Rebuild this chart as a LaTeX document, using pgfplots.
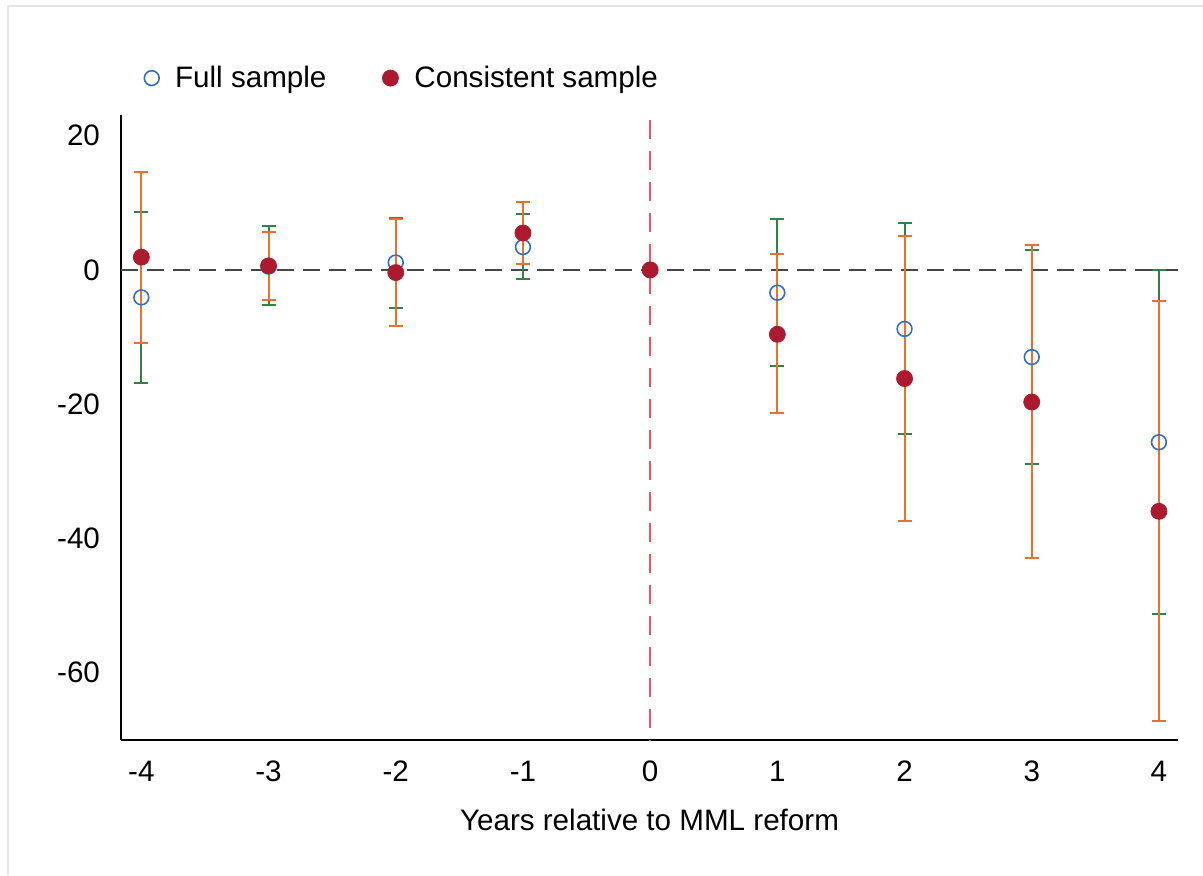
\documentclass[border=0pt]{standalone}
\usepackage{fontspec}
\setmainfont{Liberation Sans}
\usepackage{pgfplots}
\pgfplotsset{compat=1.18}
\usepackage{pgfplotstable}

\definecolor{fullblue}{RGB}{50,110,190}
\definecolor{consred}{RGB}{172,26,47}
\definecolor{cigreen}{RGB}{50,130,70}
\definecolor{ciorange}{RGB}{235,112,45}
\definecolor{zeroline}{RGB}{70,70,70}
\definecolor{vred}{RGB}{240,85,95}

\pgfplotstableread{
x y lo hi
-4 -4.1 -16.8 8.7
-3 0.5 -5.3 6.5
-2 1.1 -5.7 7.8
-1 3.4 -1.4 8.3
0 0 0 0
1 -3.4 -14.3 7.6
2 -8.8 -24.4 7.0
3 -13.0 -29.0 3.0
4 -25.7 -51.3 0.0
}\full
\pgfplotstableread{
x y lo hi
-4 1.9 -10.9 14.6
-3 0.6 -4.5 5.6
-2 -0.4 -8.4 7.6
-1 5.5 0.9 10.1
0 0 0 0
1 -9.6 -21.3 2.3
2 -16.2 -37.4 5.1
3 -19.7 -43.0 3.7
4 -36.0 -67.3 -4.7
}\cons

\begin{document}
\begin{tikzpicture}[x=1pt,y=1pt]
\path[use as bounding box] (0,0) rectangle (601.5,437.5);
\draw[black!10, line width=0.8pt] (4,0) -- (4,434.5) -- (601.5,434.5);
\begin{axis}[
  at={(60.5pt,67.5pt)}, anchor=south west,
  scale only axis, width=528.5pt, height=312.5pt,
  xmin=-4.16, xmax=4.15, ymin=-70.1, ymax=23.1,
  axis x line*=bottom, axis y line*=left,
  axis line style={line width=0.75pt, black},
  xtick={-4,...,4}, ytick={-60,-40,-20,0,20},
  major tick length=0pt,
  tick label style={font=\fontsize{14.8}{17}\selectfont},
  /pgf/number format/assume math mode=true,
  xticklabel style={yshift=-7pt},
  yticklabel style={xshift=-7pt},
  xlabel={Years relative to MML reform},
  xlabel style={font=\fontsize{14.8}{17}\selectfont, yshift=-6.5pt},
  clip=false,
  legend style={draw=none, fill=none, at={(0.016,1.059)}, anchor=west,
    font=\fontsize{14.8}{17}\selectfont, legend columns=2,
    /tikz/every odd column/.append style={column sep=6pt},
    /tikz/every even column/.append style={column sep=26pt}},
  legend cell align=left,
]
\draw[zeroline, line width=0.9pt, dash pattern=on 8.5pt off 4.5pt] (axis cs:-4.16,0) -- (axis cs:4.15,0);
\draw[vred, line width=1pt, dash pattern=on 9.5pt off 6pt] (axis cs:0,22.4) -- (axis cs:0,-70.1);

\addplot[only marks, mark=o, mark size=3.7pt, mark options={draw=fullblue, line width=0.8pt}] table[x=x,y=y]{\full};
\addlegendentry{Full sample}
\addplot[only marks, mark=*, mark size=4pt, mark options={draw=consred, fill=consred}] table[x=x,y=y]{\cons};
\addlegendentry{Consistent sample}

\addplot[draw=none, mark=none, forget plot,
  error bars/.cd, y dir=both, y explicit,
  error bar style={cigreen, line width=1pt},
  error mark options={rotate=90, mark size=3.5pt, cigreen, line width=1pt}]
  table[x=x, y=y, y error plus expr=\thisrow{hi}-\thisrow{y}, y error minus expr=\thisrow{y}-\thisrow{lo}]{\full};
\addplot[draw=none, mark=none, forget plot,
  error bars/.cd, y dir=both, y explicit,
  error bar style={ciorange, line width=1pt},
  error mark options={rotate=90, mark size=3.5pt, ciorange, line width=1pt}]
  table[x=x, y=y, y error plus expr=\thisrow{hi}-\thisrow{y}, y error minus expr=\thisrow{y}-\thisrow{lo}]{\cons};
\end{axis}
\end{tikzpicture}
\end{document}
